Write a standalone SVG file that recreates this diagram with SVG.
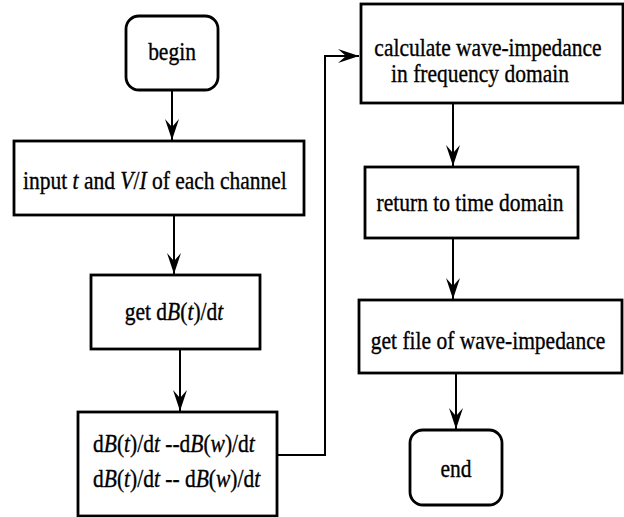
<svg xmlns="http://www.w3.org/2000/svg" width="624" height="517" viewBox="0 0 624 517" font-family="'Liberation Serif', 'Times New Roman', 'DejaVu Serif', serif">
<style>
.box{fill:#fff;stroke:#000;stroke-width:2.8}
.ln{fill:none;stroke:#000;stroke-width:2}
text{font-family:'Liberation Serif','Times New Roman','DejaVu Serif',serif;font-size:21.5px;fill:#000;stroke:#000;stroke-width:0.3}
.c{text-anchor:middle}
.i{font-style:italic}
</style>
<defs>
<marker id="ah" markerUnits="userSpaceOnUse" markerWidth="24" markerHeight="16" viewBox="-22 -8 24 16" refX="0" refY="0" orient="auto">
<path d="M0,0 L-21,-7 L-13,0 L-21,7 Z" fill="#000"/>
</marker>
</defs>
<g id="connectors">
<path class="ln" d="M172,90 V140" marker-end="url(#ah)"/>
<path class="ln" d="M174,215 V274" marker-end="url(#ah)"/>
<path class="ln" d="M180,349 V411" marker-end="url(#ah)"/>
<path class="ln" d="M277,455 H325 V56 H359" marker-end="url(#ah)"/>
<path class="ln" d="M453,103 V166" marker-end="url(#ah)"/>
<path class="ln" d="M453,238 V299" marker-end="url(#ah)"/>
<path class="ln" d="M456,373 V429" marker-end="url(#ah)"/>
</g>
<g id="begin">
<rect class="box" x="126" y="16" width="92" height="74" rx="13"/>
<text class="c" transform="translate(172,60) scale(1,1.22)">begin</text>
</g>
<g id="input">
<rect class="box" x="14" y="141" width="290" height="74"/>
<text transform="translate(23,189) scale(1,1.22)">input <tspan class="i">t</tspan> and <tspan class="i">V</tspan>/<tspan class="i">I</tspan> of each channel</text>
</g>
<g id="getdb">
<rect class="box" x="91" y="275" width="169" height="74"/>
<text class="c" transform="translate(174,320) scale(1,1.22)">get d<tspan class="i">B</tspan>(<tspan class="i">t</tspan>)/d<tspan class="i">t</tspan></text>
</g>
<g id="transform">
<rect class="box" x="78" y="412" width="199" height="104"/>
<text transform="translate(93,452) scale(1,1.22)">d<tspan class="i">B</tspan>(<tspan class="i">t</tspan>)/d<tspan class="i">t</tspan> --d<tspan class="i">B</tspan>(<tspan class="i">w</tspan>)/d<tspan class="i">t</tspan></text>
<text transform="translate(93,487) scale(1,1.22)">d<tspan class="i">B</tspan>(<tspan class="i">t</tspan>)/d<tspan class="i">t</tspan> -- d<tspan class="i">B</tspan>(<tspan class="i">w</tspan>)/d<tspan class="i">t</tspan></text>
</g>
<g id="calc">
<rect class="box" x="361" y="4" width="262" height="99"/>
<text class="c" transform="translate(488,56) scale(1,1.22)">calculate wave-impedance</text>
<text class="c" transform="translate(480,82) scale(1,1.22)">in frequency domain</text>
</g>
<g id="return">
<rect class="box" x="365" y="167" width="213" height="71"/>
<text class="c" transform="translate(470,211) scale(1,1.22)">return to time domain</text>
</g>
<g id="getfile">
<rect class="box" x="359" y="300" width="263" height="73"/>
<text class="c" transform="translate(488,349) scale(1,1.22)">get file of wave-impedance</text>
</g>
<g id="end">
<rect class="box" x="410" y="430" width="92" height="75" rx="13"/>
<text class="c" transform="translate(456,477) scale(1,1.22)">end</text>
</g>
</svg>
